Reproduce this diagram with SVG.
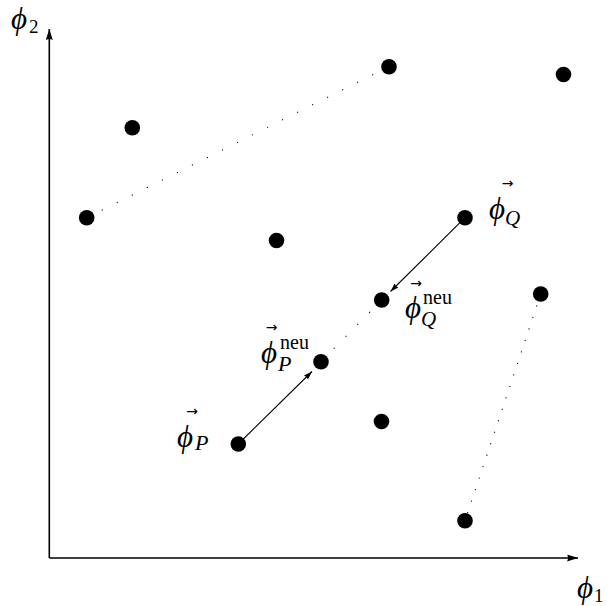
<svg xmlns="http://www.w3.org/2000/svg" width="607" height="606" viewBox="0 0 607 606">
<style>
.pt{fill:#000}
.ax{stroke:#000;stroke-width:1.6;fill:none}
.dot{stroke:#000;stroke-width:1.1;fill:none;stroke-dasharray:1.1 15.7}
.arr{stroke:#000;stroke-width:1.1;fill:none}
.m{font-family:"Liberation Serif","DejaVu Serif",serif;font-style:italic;fill:#000}
.r{font-family:"Liberation Serif","DejaVu Serif",serif;fill:#000}
.v{font-family:"DejaVu Sans",sans-serif;fill:#000;font-size:14px}
</style>
<defs>
<marker id="big" markerUnits="userSpaceOnUse" markerWidth="14" markerHeight="10" refX="11" refY="3.5" orient="auto"><path d="M0,0 L11,3.5 L0,7 Q2,3.5 0,0 Z" fill="#000"/></marker>
<marker id="sm" markerUnits="userSpaceOnUse" markerWidth="12" markerHeight="8" refX="8.5" refY="2.8" orient="auto"><path d="M0,0 L8.5,2.8 L0,5.6 Q1.5,2.8 0,0 Z" fill="#000"/></marker>
</defs>
<g id="axes">
<line class="ax" x1="49.3" y1="558" x2="49.3" y2="29" marker-end="url(#big)"/>
<line class="ax" x1="49.3" y1="558" x2="578" y2="558" marker-end="url(#big)"/>
</g>
<g id="connectors">
<line class="dot" x1="86.7" y1="217.7" x2="389" y2="66.7"/>
<line class="dot" x1="381.7" y1="300" x2="321" y2="361.7"/>
<line class="dot" x1="540.7" y1="294" x2="465" y2="520.7" style="stroke-dasharray:1.1 11"/>
<line class="arr" x1="238.3" y1="444" x2="312" y2="371.5" marker-end="url(#sm)"/>
<line class="arr" x1="465" y1="217.7" x2="390.5" y2="291.5" marker-end="url(#sm)"/>
</g>
<g id="p1"><circle class="pt" cx="389" cy="66.7" r="7.8"/></g>
<g id="p2"><circle class="pt" cx="563.5" cy="74.5" r="7.8"/></g>
<g id="p3"><circle class="pt" cx="132.3" cy="127.7" r="7.8"/></g>
<g id="p4"><circle class="pt" cx="86.7" cy="217.7" r="7.8"/></g>
<g id="p5"><circle class="pt" cx="465" cy="217.7" r="7.8"/></g>
<g id="p6"><circle class="pt" cx="276.5" cy="240.5" r="7.8"/></g>
<g id="p7"><circle class="pt" cx="381.7" cy="300" r="7.8"/></g>
<g id="p8"><circle class="pt" cx="540.7" cy="294" r="7.8"/></g>
<g id="p9"><circle class="pt" cx="321" cy="361.7" r="7.8"/></g>
<g id="p10"><circle class="pt" cx="381.5" cy="421.5" r="7.8"/></g>
<g id="p11"><circle class="pt" cx="238.3" cy="444" r="7.8"/></g>
<g id="p12"><circle class="pt" cx="465" cy="520.7" r="7.8"/></g>
<g id="labels">
<text class="m" x="11" y="29" font-size="31">ϕ</text><text class="r" x="29" y="33" font-size="19">2</text>
<text class="m" x="577" y="598" font-size="31">ϕ</text><text class="r" x="594" y="602" font-size="19">1</text>
<text class="v" x="507.5" y="188" text-anchor="middle">→</text>
<text class="m" x="489" y="219" font-size="31">ϕ</text><text class="m" x="505" y="225" font-size="21">Q</text>
<text class="v" x="416" y="288" text-anchor="middle">→</text>
<text class="m" x="405" y="318" font-size="31">ϕ</text><text class="r" x="423" y="304" font-size="20">neu</text><text class="m" x="421" y="326" font-size="21">Q</text>
<text class="v" x="271.5" y="332" text-anchor="middle">→</text>
<text class="m" x="261" y="363" font-size="31">ϕ</text><text class="r" x="280" y="349" font-size="20">neu</text><text class="m" x="278" y="371" font-size="22">P</text>
<text class="v" x="192" y="416" text-anchor="middle">→</text>
<text class="m" x="177" y="447" font-size="31">ϕ</text><text class="m" x="195" y="450" font-size="22">P</text>
</g>
</svg>
